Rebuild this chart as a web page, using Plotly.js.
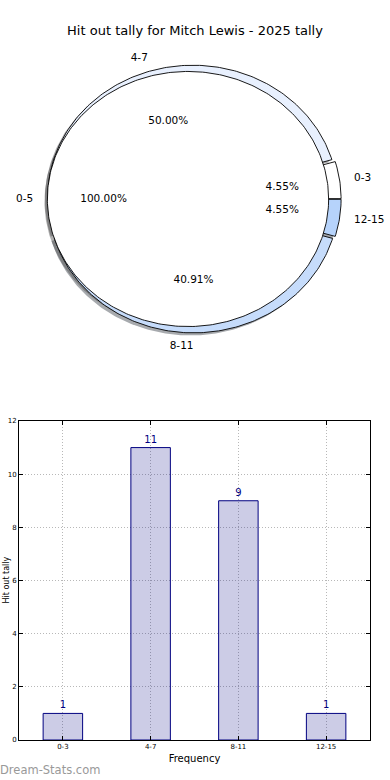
<!DOCTYPE html>
<html><head><meta charset="utf-8">
<script src="https://cdn.plot.ly/plotly-3.0.1.min.js"></script>
<style>html,body{margin:0;padding:0;background:#fff}#chart{width:390px;height:780px}</style>
</head><body><div id="chart"></div>
<script>
const chartTitle = 'Hit out tally for Mitch Lewis - 2025 tally';
const ringLabels = ['0-3', '4-7', '8-11', '12-15'];
const ringValues = [1, 11, 9, 1];
const ringColors = ['#ffffff', '#e8f0fe', '#c6dcfb', '#b6d3fb'];
const innerLabels = ['0-5'];
const innerValues = [22];
const innerColors = ['#ffffff'];
const barCategories = ['0-3', '4-7', '8-11', '12-15'];
const barValues = [1, 11, 9, 1];
const yTickValues = [0, 2, 4, 6, 8, 10, 12];
const xAxisTitle = 'Frequency';
const yAxisTitle = 'Hit out tally';
const watermark = 'Dream-Stats.com';

// matplotlib-like pie parameters
const RING_R = 1.0, RING_EXPLODE = 0.018;
const INNER_R = 0.97, INNER_EXPLODE = 0.038;
const PCT_DIST = 0.6, LABEL_DIST = 1.1;
const SHADOW_DX = -0.02, SHADOW_DY = -0.02;

function hexToRgb(h){const n=parseInt(h.slice(1),16);return [(n>>16)&255,(n>>8)&255,n&255];}

function pieWedges(values, labels, colors, r, explode){
  const total = values.reduce((a,b)=>a+b,0);
  let acc = 0; const out = [];
  values.forEach((v,i)=>{
    const f0 = acc/total, f1 = (acc+v)/total;
    const m = Math.PI*(f0+f1);
    const cx = explode*Math.cos(m), cy = explode*Math.sin(m);
    out.push({a0:360*f0, a1:360*f1, m, cx, cy, r, label:labels[i], color:colors[i],
      pct:(100*v/total).toFixed(2)+'%', full:(f1-f0)>=0.99999});
    acc += v;
  });
  return out;
}

function wedgePath(w, dx, dy){
  const xs=[], ys=[];
  const cx=w.cx+(dx||0), cy=w.cy+(dy||0);
  const n = Math.max(6, Math.ceil(w.a1-w.a0));
  if(!w.full){xs.push(cx); ys.push(cy);}
  for(let i=0;i<=n;i++){
    const a=(w.a0+(w.a1-w.a0)*i/n)*Math.PI/180;
    xs.push(cx+w.r*Math.cos(a)); ys.push(cy+w.r*Math.sin(a));
  }
  if(!w.full){xs.push(cx); ys.push(cy);}
  return {xs, ys};
}

const ring = pieWedges(ringValues, ringLabels, ringColors, RING_R, RING_EXPLODE);
const inner = pieWedges(innerValues, innerLabels, innerColors, INNER_R, INNER_EXPLODE);
const allW = ring.concat(inner);

const traces = [];
// shadows (below every wedge)
allW.forEach(w=>{
  const p = wedgePath(w, SHADOW_DX, SHADOW_DY);
  const c = hexToRgb(w.color).map(v=>Math.round(v*0.3));
  traces.push({type:'scatter', mode:'lines', x:p.xs, y:p.ys, fill:'toself',
    fillcolor:`rgba(${c[0]},${c[1]},${c[2]},0.45)`, line:{width:0, color:'rgba(0,0,0,0)'},
    hoverinfo:'skip', xaxis:'x', yaxis:'y'});
});
// wedges
allW.forEach(w=>{
  const p = wedgePath(w);
  traces.push({type:'scatter', mode:'lines', x:p.xs, y:p.ys, fill:'toself',
    fillcolor:w.color, line:{width:0.9, color:'#000'}, hoverinfo:'skip', xaxis:'x', yaxis:'y'});
});
// labels and percentages
allW.forEach(w=>{
  const xt = w.cx + LABEL_DIST*w.r*Math.cos(w.m);
  const yt = w.cy + LABEL_DIST*w.r*Math.sin(w.m);
  const left = xt > 1e-9;
  traces.push({type:'scatter', mode:'text', x:[xt], y:[yt], text:[w.label],
    textposition: left ? 'middle right' : 'middle left',
    textfont:{size:10.5, color:'#000', family:'DejaVu Sans'}, hoverinfo:'skip', xaxis:'x', yaxis:'y'});
  const xp = w.cx + PCT_DIST*w.r*Math.cos(w.m);
  const yp = w.cy + PCT_DIST*w.r*Math.sin(w.m);
  traces.push({type:'scatter', mode:'text', x:[xp], y:[yp], text:[w.pct],
    textposition:'middle center',
    textfont:{size:10.5, color:'#000', family:'DejaVu Sans'}, hoverinfo:'skip', xaxis:'x', yaxis:'y'});
});

// bar chart
traces.push({type:'bar', x:barCategories, y:barValues, width:0.45,
  marker:{color:'rgba(0,0,128,0.2)', line:{color:'#000080', width:1}},
  text:barValues.map(String), textposition:'outside', cliponaxis:false,
  textfont:{size:10, color:'#000080', family:'DejaVu Sans'},
  xaxis:'x2', yaxis:'y2', hoverinfo:'skip'});

const UX = 145, UY = 131.5, CX = 193.5, CY = 199;
const layout = {
  width:390, height:780, margin:{l:0, r:0, t:0, b:0},
  paper_bgcolor:'#fff', plot_bgcolor:'rgba(0,0,0,0)', showlegend:false,
  font:{family:'DejaVu Sans', color:'#000'},
  title:{text:chartTitle, x:0.5, xanchor:'center', y:1-30/780, yanchor:'middle', yref:'container',
    font:{size:13, family:'DejaVu Sans', color:'#000'}},
  xaxis:{domain:[0,1], range:[-CX/UX, (390-CX)/UX], visible:false, fixedrange:true},
  yaxis:{domain:[0.5,1], range:[-(390-CY)/UY, CY/UY], visible:false, fixedrange:true},
  xaxis2:{domain:[19/390, 370/390], anchor:'y2', type:'category', range:[-0.5, 3.5],
    showgrid:true, gridcolor:'#b8b8b8', griddash:'1px,2px', gridwidth:1,
    showline:true, linecolor:'#000', linewidth:1, mirror:'allticks',
    ticks:'inside', ticklen:4, tickcolor:'#000', tickfont:{size:7, color:'#000'},
    title:{text:xAxisTitle, font:{size:10, color:'#000'}, standoff:4}, zeroline:false, fixedrange:true},
  yaxis2:{domain:[1-740/780, 1-421/780], anchor:'x2', range:[0, 12], tickvals:yTickValues,
    showgrid:true, gridcolor:'#b8b8b8', griddash:'1px,2px', gridwidth:1,
    showline:true, linecolor:'#000', linewidth:1, mirror:'allticks',
    ticks:'inside', ticklen:4, tickcolor:'#000', tickfont:{size:7, color:'#000'},
    zeroline:false, fixedrange:true},
  annotations:[
    {text:yAxisTitle, xref:'paper', yref:'paper', x:0, y:1-580/780, xanchor:'left', yanchor:'middle',
      xshift:-1, textangle:-90, showarrow:false, font:{size:8, color:'#000'}},
    {text:watermark, xref:'paper', yref:'paper', x:0, y:1-770/780, xanchor:'left', yanchor:'middle',
      xshift:-2, showarrow:false, font:{size:11.5, color:'#999999'}}
  ]
};

Plotly.newPlot('chart', traces, layout, {displayModeBar:false, staticPlot:true});
</script></body></html>
